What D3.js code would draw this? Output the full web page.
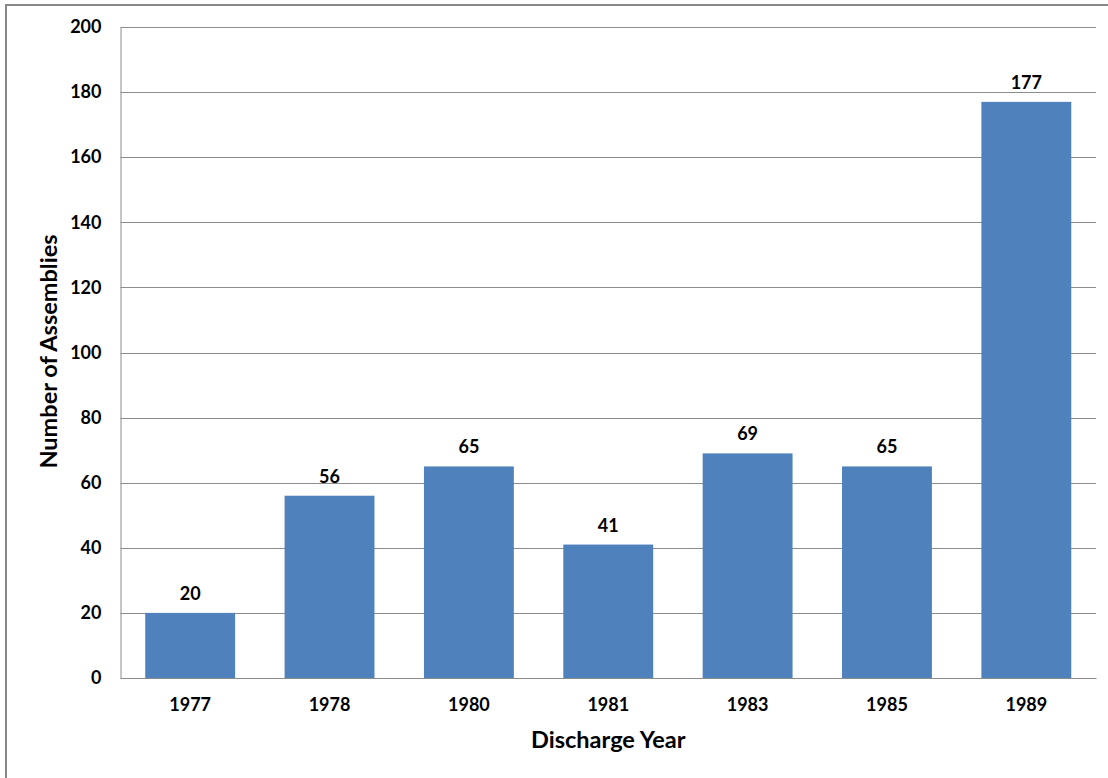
<!DOCTYPE html>
<html><head><meta charset="utf-8">
<script src="https://cdn.jsdelivr.net/npm/d3@7"></script>
<style>body{margin:0;background:#fff}svg{display:block}</style>
</head><body>
<script>
const categories = ["1977","1978","1980","1981","1983","1985","1989"];
const values = [20,56,65,41,69,65,177];
const yTicks = [0,20,40,60,80,100,120,140,160,180,200];

(function(){
const W = 1108, H = 778;
const svg = d3.select("body").append("svg").attr("width", W).attr("height", H);
const font = "Lato, 'Open Sans', sans-serif";

svg.append("rect").attr("x",6).attr("y",5).attr("width",W).attr("height",H)
  .attr("fill","#fff").attr("stroke","#888").attr("stroke-width",2);

const mLeft = 120.5, mRight = 1096, mTop = 27, mBottom = 678;
const x = d3.scaleBand().domain(categories).range([mLeft, mRight]).paddingInner(0.355).paddingOuter(0.1775);
const y = d3.scaleLinear().domain([0,200]).range([mBottom, mTop]);

svg.append("g").selectAll("line").data(yTicks).join("line")
  .attr("x1", mLeft).attr("x2", mRight)
  .attr("y1", d => Math.round(y(d))+0.5).attr("y2", d => Math.round(y(d))+0.5)
  .attr("stroke", "#8c8c8c").attr("stroke-width", 1);

svg.append("g").selectAll("rect").data(values).join("rect")
  .attr("x", (d,i) => x(categories[i]))
  .attr("width", x.bandwidth())
  .attr("y", d => y(d))
  .attr("height", d => y(0) - y(d))
  .attr("fill", "#4f81bd");

svg.append("g").selectAll("text").data(values).join("text")
  .attr("x", (d,i) => x(categories[i]) + x.bandwidth()/2)
  .attr("y", d => y(d) - 13)
  .attr("text-anchor","middle")
  .attr("font-family", font).attr("font-weight","bold").attr("font-size", 18)
  .attr("fill","#000").text(d => d);

const yAxis = svg.append("g").attr("transform", `translate(${mLeft},0)`)
  .call(d3.axisLeft(y).tickValues(yTicks).tickSize(0).tickPadding(19));
yAxis.select(".domain").attr("stroke","#8c8c8c");
yAxis.selectAll("text").attr("font-family", font).attr("font-weight","bold").attr("font-size",18).attr("fill","#000");

const xAxis = svg.append("g").attr("transform", `translate(0,${mBottom})`)
  .call(d3.axisBottom(x).tickSize(0).tickPadding(20));
xAxis.select(".domain").attr("stroke","#8c8c8c");
xAxis.selectAll("text").attr("font-family", font).attr("font-weight","bold").attr("font-size",18).attr("fill","#000");

svg.append("text").attr("x", (mLeft+mRight)/2).attr("y", 748)
  .attr("text-anchor","middle").attr("font-family", font).attr("font-weight","bold")
  .attr("font-size",23.5).text("Discharge Year");
svg.append("text").attr("transform", `translate(57,${(mTop+mBottom)/2 - 1}) rotate(-90)`)
  .attr("text-anchor","middle").attr("font-family", font).attr("font-weight","bold")
  .attr("font-size",23.5).text("Number of Assemblies");
})();
</script>
</body></html>
